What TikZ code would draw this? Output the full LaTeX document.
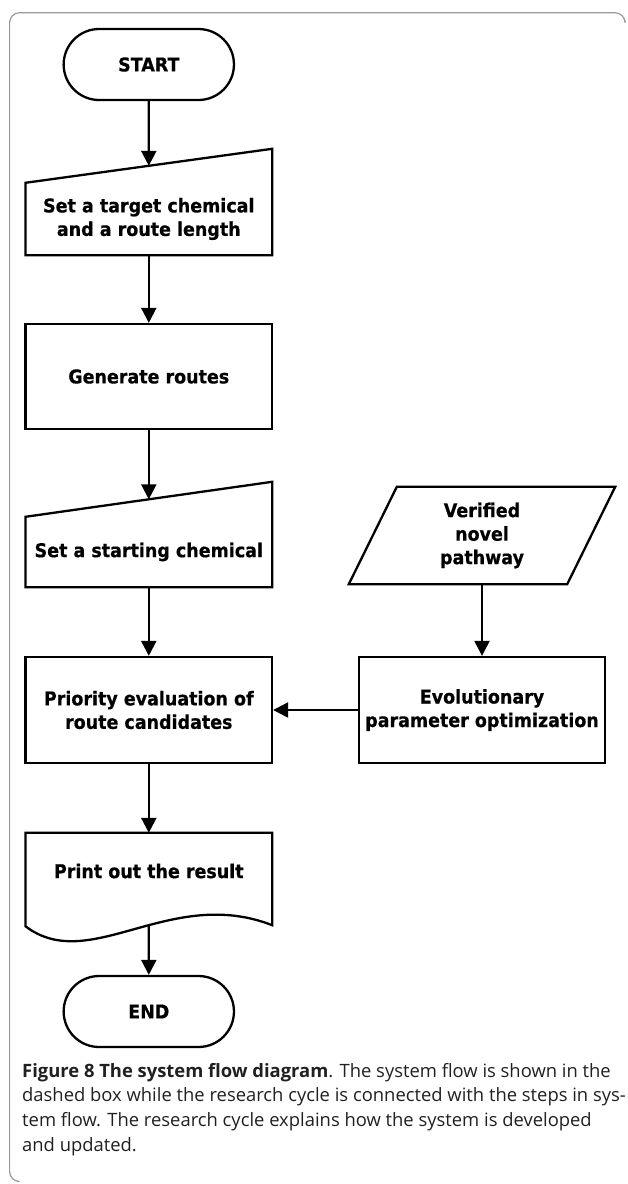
\documentclass[tikz,border=0pt]{standalone}
\usepackage{fontspec}
\setmainfont{Open Sans}
\newfontfamily\diagfont[FakeStretch=0.92, BoldFeatures={FakeBold=0.6}]{DejaVu Sans}
\usetikzlibrary{arrows.meta, positioning, calc, shapes.misc}
\definecolor{marco}{HTML}{9A9A9A}
\definecolor{pie}{HTML}{231F20}
\tikzset{
  every picture/.style={>={Triangle[width=15pt, length=15pt]}},
  texto/.style={align=center, font=\diagfont\bfseries\fontsize{19}{23.5}\selectfont},
  term/.style={texto, draw, line width=2.3pt, rounded rectangle,
              minimum width=177pt, minimum height=71pt},
  proc/.style={texto, draw, line width=2.3pt, minimum width=246.4pt},
  manual/.style={texto, minimum width=246.4pt}, % outline drawn by hand
  datos/.style={texto, minimum width=218pt, minimum height=97pt}, % outline drawn by hand
  borde/.style={line width=2.3pt, line join=miter},
  flecha/.style={->, line width=2.3pt},
}

\begin{document}
\begin{tikzpicture}[x=1pt, y=-1pt]
  \useasboundingbox (0,0) rectangle (628,1184);
  \draw[marco, line width=1.2pt, rounded corners=10pt] (17,1181.5) -- (9.6,1181.5) -- (9.6,12.7) -- (625,12.7) -- (625,20);

  % system flow
  \node[term] (start) at (148.8,64.5) {START};
  \node[manual, minimum height=72pt] (objetivo) at (148.8,219) {Set a target chemical\\and a route length};
  \draw[borde] (objetivo.south west) -- (objetivo.south east) -- ($(objetivo.north east)+(0,-34)$) -- (objetivo.north west) -- cycle;
  \coordinate (objetivoarriba) at ($(objetivo.north)+(0,-17)$);
  \node[proc, minimum height=105pt] (rutas) at (148.8,376.5) {Generate routes};
  \node[manual, minimum height=70pt] (inicio) at (148.8,552) {Set a starting chemical};
  \draw[borde] (inicio.south west) -- (inicio.south east) -- ($(inicio.north east)+(0,-35)$) -- (inicio.north west) -- cycle;
  \coordinate (inicioarriba) at ($(inicio.north)+(0,-17.5)$);
  \node[proc, minimum height=106pt] (prioridad) at (148.8,710) {Priority evaluation of\\route candidates};
  \node[manual, minimum height=76pt] (salida) at (148.8,871) {Print out the result};
  \draw[borde] (salida.south west) -- (salida.north west) -- (salida.north east) -- ($(salida.south east)+(0,16)$)
    .. controls ($(salida.south)+(21,-24)$) and ($(salida.south)+(-59,66)$) .. ($(salida.south west)+(0,17)$) -- cycle;
  \coordinate (salidaabajo) at ($(salida.south)+(0,16)$);
  \node[term] (fin) at (148.8,1011.5) {END};

  % research cycle
  \node[datos] (ruta) at (482,535.5) {Verified\\novel\\pathway};
  \draw[borde] ($(ruta.south west)+(-24,0)$) -- ($(ruta.south east)+(-24,0)$) -- ($(ruta.north east)+(24,0)$) -- ($(ruta.north west)+(24,0)$) -- cycle;
  \node[proc, minimum height=106pt] (evol) at (482,710) {Evolutionary\\parameter optimization};

  \draw[flecha] (start) -- (objetivoarriba);
  \draw[flecha] (objetivo) -- (rutas);
  \draw[flecha] (rutas) -- (inicioarriba);
  \draw[flecha] (inicio) -- (prioridad);
  \draw[flecha] (prioridad) -- (salida);
  \draw[flecha] (salidaabajo) -- (fin);
  \draw[flecha] (ruta) -- (evol);
  \draw[flecha] (evol) -- (prioridad);

  \node[anchor=north west, align=left, inner sep=0pt, text=pie, font=\fontsize{18.4}{24.7}\selectfont] (leyenda) at (22,1063)
    {\textbf{Figure 8 The system flow diagram}. The system flow is shown in the\\
     dashed box while the research cycle is connected with the steps in sys-\\
     tem flow. The research cycle explains how the system is developed\\
     and updated.};
\end{tikzpicture}
\end{document}
